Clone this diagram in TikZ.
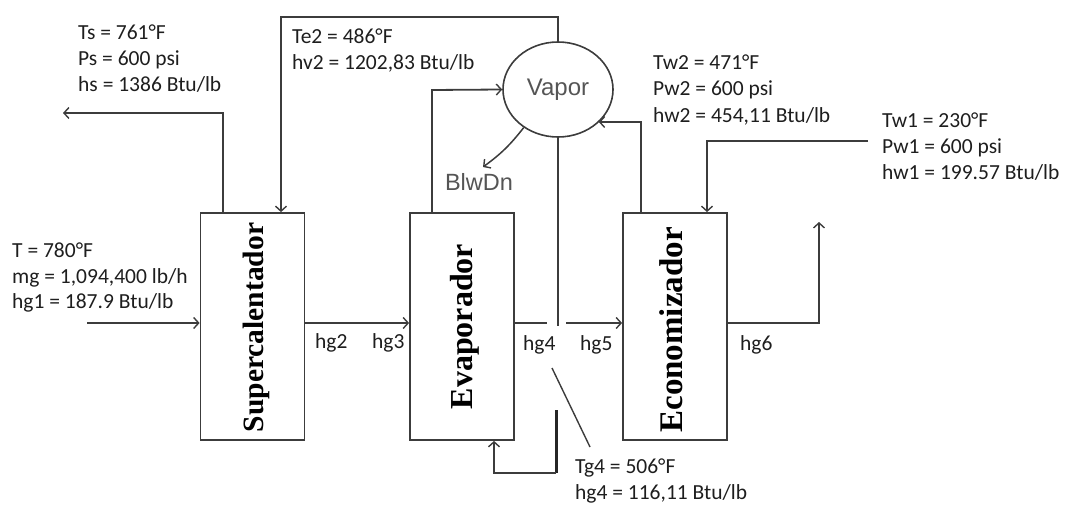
\documentclass[tikz,border=0pt]{standalone}
\usepackage{fontspec}
\setmainfont{Carlito}
\newfontfamily\arialf{Liberation Sans}
\newfontfamily\timesf{Liberation Serif}
\usetikzlibrary{arrows.meta,shapes.geometric}
\definecolor{lc}{RGB}{60,60,60}
\definecolor{tc}{RGB}{30,30,30}
\definecolor{gc}{RGB}{85,85,85}
\tikzset{
  line/.style={draw=lc, line width=1.8pt},
  flow/.style={line, -{Straight Barb[length=5pt,width=11pt,line width=1.4pt]}},
  lab/.style={anchor=base west, inner sep=0pt, text=tc, font=\fontsize{21.5}{26}\selectfont},
  unit/.style={draw=lc, line width=1.8pt, inner sep=0pt, minimum width=104pt, minimum height=227pt},
  utext/.style={rotate=90, inner sep=0pt, text=black},
  gtext/.style={text=gc, font=\arialf\fontsize{23.5}{28}\selectfont, inner sep=0pt}
}
\begin{document}
\begin{tikzpicture}[x=1pt,y=-1pt]
\useasboundingbox (0,0) rectangle (1070,505);

% units
\node[unit] (sup) at (252.5,326.5) {};
\node[unit] (evap) at (462,326.5) {};
\node[unit] (econ) at (675,326.5) {};
\node[utext, font=\timesf\bfseries\fontsize{29.5}{32}\selectfont] (suptxt) at (256,327.5) {Supercalentador};
\node[utext, font=\timesf\bfseries\fontsize{32}{34}\selectfont] (evtxt) at (465,326.5) {Evaporador};
\node[utext, font=\timesf\bfseries\fontsize{33}{35}\selectfont] (ectxt) at (671,330) {Economizador};

% drum
\node[draw=lc, line width=1.6pt, ellipse, minimum width=110pt, minimum height=95pt, inner sep=0pt,
      text=gc, font=\arialf\fontsize{24}{28}\selectfont] (vapor) at (558,89.5) {Vapor};
\node[gtext, anchor=base] (blw) at (479,190) {BlwDn};

% coordinates
\coordinate (gin) at (87,323);
\coordinate (gapL) at (547,323);
\coordinate (gapR) at (566,323);
\coordinate (outc) at (819,323);
\coordinate (outtop) at (819,222);
\coordinate (fw) at (868,141);
\coordinate (fwc) at (707,141);
\coordinate (ecr) at (641,122);
\coordinate (evr) at (432,90);
\coordinate (topc) at (281,17);
\coordinate (supr) at (223,113);
\coordinate (stout) at (63,113);
\coordinate (vdrop) at (556,326);
\coordinate (leadA) at (552,368);
\coordinate (leadB) at (590,447);
\coordinate (loopT) at (556,410);
\coordinate (loopB) at (556,473);
\coordinate (loopL) at (494,473);
\coordinate (blwtip) at (483,167);

% gas path
\draw[flow] (gin) -- (gin -| sup.west);
\draw[flow] (gin -| sup.east) -- (gin -| evap.west);
\draw[line] (gin -| evap.east) -- (gapL);
\draw[flow] (gapR) -- (gin -| econ.west);
\draw[flow] (gin -| econ.east) -- (outc) -- (outtop);

% water / steam
\draw[flow] (fw) -- (fwc) -- (fwc |- econ.north);
\draw[flow] (ecr |- econ.north) -- (ecr) -- (ecr -| vapor.-39);
\draw[flow] (evr |- evap.north) -- (evr) -- (vapor.west);
\draw[flow] (vapor.north) -- (vapor.north |- topc) -- (topc) -- (topc |- sup.north);
\draw[flow] (supr |- sup.north) -- (supr) -- (stout);
\draw[flow, line width=1.5pt] (vapor.228) to[bend left=8] (blwtip);
\draw[line] (vapor.south) -- (vapor.south |- vdrop);
\draw[draw=lc, line width=1.4pt] (leadA) -- (leadB);
\draw[draw=black!85, line width=3pt] (loopT) -- (loopB);
\draw[flow] (loopB) -- (loopL) -- (loopL |- evap.south);

% labels
\node[lab] (ts) at (78,40) {Ts = 761°F};
\node[lab] (ps) at (78,66) {Ps = 600 psi};
\node[lab] (hs) at (78,92) {hs = 1386 Btu/lb};
\node[lab] (te2) at (292,44) {Te2 = 486°F};
\node[lab] (hv2) at (292,70) {hv2 = 1202,83 Btu/lb};
\node[lab] (tw2) at (653,70) {Tw2 = 471°F};
\node[lab] (pw2) at (653,96) {Pw2 = 600 psi};
\node[lab] (hw2) at (653,123) {hw2 = 454,11 Btu/lb};
\node[lab] (tw1) at (882,128) {Tw1 = 230°F};
\node[lab] (pw1) at (882,154) {Pw1 = 600 psi};
\node[lab] (hw1) at (882,180) {hw1 = 199.57 Btu/lb};
\node[lab] (t1) at (12,257) {T = 780°F};
\node[lab] (mg) at (12,283) {mg = 1,094,400 lb/h};
\node[lab] (hg1) at (12,308) {hg1 = 187.9 Btu/lb};
\node[lab] (hg2) at (315,348) {hg2};
\node[lab] (hg3) at (372,348) {hg3};
\node[lab] (hg4) at (523,350) {hg4};
\node[lab] (hg5) at (580,350) {hg5};
\node[lab] (hg6) at (740,350) {hg6};
\node[lab] (tg4) at (575,473) {Tg4 = 506°F};
\node[lab] (hg4b) at (575,499) {hg4 = 116,11 Btu/lb};
\end{tikzpicture}
\end{document}
